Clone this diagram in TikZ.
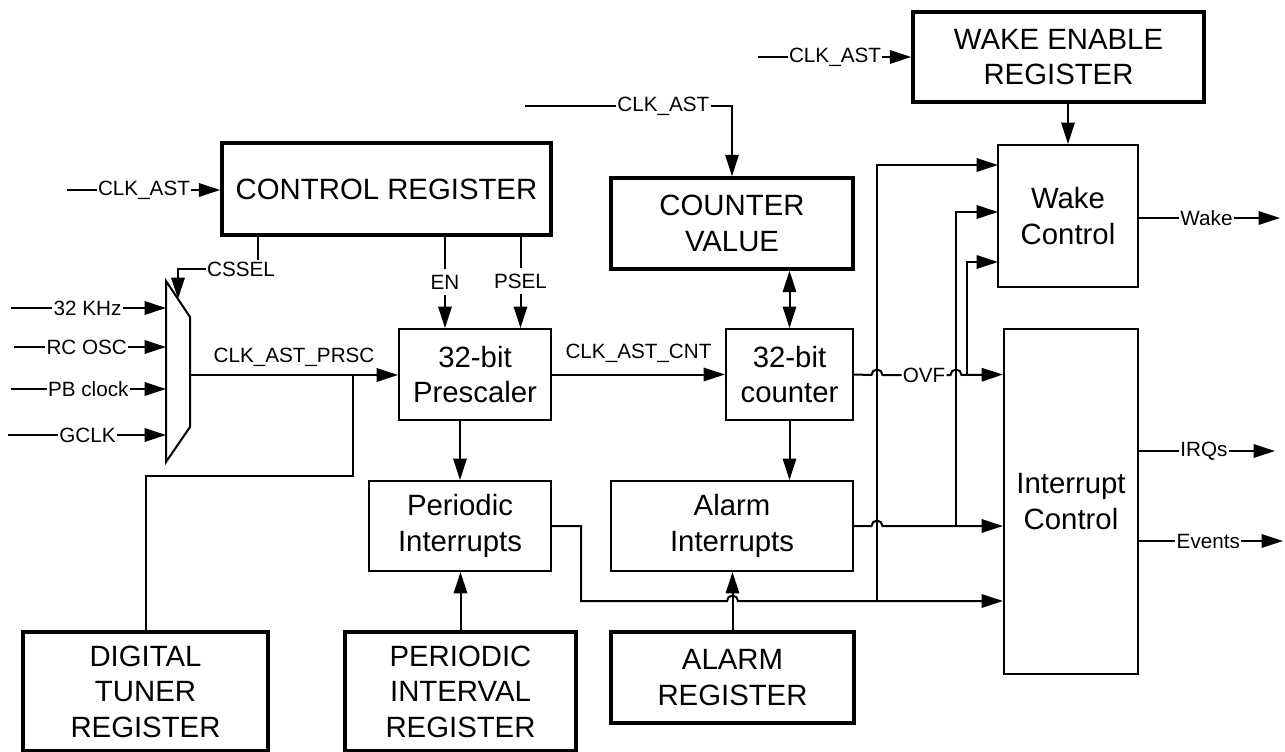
\documentclass[tikz,border=0pt]{standalone}
\usepackage{fontspec}
\setmainfont{Liberation Sans}
\usetikzlibrary{arrows.meta}

\tikzset{
  wire/.style={line width=1.5pt},
  regbox/.style={draw, line width=2.6pt, align=center, inner sep=0pt, font=\fontsize{22}{26.6}\selectfont},
  blkbox/.style={draw, line width=1.5pt, align=center, inner sep=0pt, font=\fontsize{22}{26.6}\selectfont},
  sig/.style={inner sep=0.75pt, font=\fontsize{15.5}{18}\selectfont},
  vsig/.style={sig, inner ysep=4pt},
}

\begin{document}
\begin{tikzpicture}[x=0.75pt,y=0.75pt,yscale=-1,xscale=1, >={Triangle[length=16pt,width=10pt]}]
\useasboundingbox (0,0) rectangle (1285,752);

% Registers
\node [regbox, minimum width=246.75pt, minimum height=69pt] (ctrl) at (386.5,189) {CONTROL REGISTER};
\node [regbox, minimum width=218.25pt, minimum height=67.5pt] (wer) at (1058.5,57) {WAKE ENABLE\\REGISTER};
\node [regbox, minimum width=181.5pt, minimum height=68.25pt] (cval) at (732,223.5) {COUNTER\\VALUE};
\node [regbox, minimum width=183.75pt, minimum height=89.25pt] (dtr) at (145.5,691.5) {DIGITAL\\TUNER\\REGISTER};
\node [regbox, minimum width=173.25pt, minimum height=89.25pt] (pir) at (460.5,691.5) {PERIODIC\\INTERVAL\\REGISTER};
\node [regbox, minimum width=182.25pt, minimum height=68.25pt] (areg) at (732.5,677.5) {ALARM\\REGISTER};

% Blocks
\node [blkbox, minimum width=114pt, minimum height=68.25pt] (presc) at (475,374.5) {32-bit\\Prescaler};
\node [blkbox, minimum width=95.25pt, minimum height=68.25pt] (cnt) at (789.5,374.5) {32-bit\\counter};
\node [blkbox, minimum width=136.5pt, minimum height=67.5pt] (pint) at (460,526) {Periodic\\Interrupts};
\node [blkbox, minimum width=181.5pt, minimum height=67.5pt] (aint) at (732,526) {Alarm\\Interrupts};
\node [blkbox, minimum width=105pt, minimum height=106.5pt] (wctl) at (1068,216) {Wake\\Control};
\node [blkbox, minimum width=100.5pt, minimum height=258.75pt] (ictl) at (1071,501.5) {Interrupt\\Control};

% Clock mux
\draw [wire] (166,281) -- (190,317) -- (190,427) -- (166,462) -- cycle;
\coordinate (muxout) at (190,375);
\coordinate (muxsel) at (178,299);
\coordinate (m1) at (166,308);
\coordinate (m2) at (166,347);
\coordinate (m3) at (166,389);
\coordinate (m4) at (166,435);

% Text Node
\node [sig] (l32) at (87.5,308) {32 KHz};
\node [sig] (lrc) at (86.7,347) {RC OSC};
\node [sig] (lpb) at (88.3,389) {PB clock};
\node [sig] (lgc) at (87.5,435) {GCLK};
\node [sig] (lcr) at (144,190) {CLK\_AST};
\node [sig] (lcv) at (663.4,106) {CLK\_AST};
\node [sig] (lwe) at (835,57) {CLK\_AST};
\node [sig] (lcs) at (241,269) {CSSEL};
\node [vsig] (len) at (445,282) {EN};
\node [vsig] (lps) at (520.5,281) {PSEL};
\node [sig] (lovf) at (924,375) {OVF};
\node [sig] (lwk) at (1206.5,218) {Wake};
\node [sig] (lirq) at (1204,451) {IRQs};
\node [sig] (lev) at (1208.3,541) {Events};

% free ends
\coordinate (s32) at (10.7,308);
\coordinate (src) at (14.3,347);
\coordinate (spb) at (10.7,389);
\coordinate (sgc) at (8.3,435);
\coordinate (scr) at (66.7,190);
\coordinate (scv) at (525,106);
\coordinate (swe) at (758,57);
\coordinate (owk) at (1280,218);
\coordinate (oirq) at (1275,451);
\coordinate (oev) at (1283,541);

% clock inputs
\draw [wire] (s32) -- (l32);  \draw [wire,->] (l32) -- (m1);
\draw [wire] (src) -- (lrc);  \draw [wire,->] (lrc) -- (m2);
\draw [wire] (spb) -- (lpb);  \draw [wire,->] (lpb) -- (m3);
\draw [wire] (sgc) -- (lgc);  \draw [wire,->] (lgc) -- (m4);

% CLK_AST into the registers
\draw [wire] (scr) -- (lcr);  \draw [wire,->] (lcr) -- (ctrl.west |- lcr);
\draw [wire] (scv) -- (lcv);  \draw [wire,->] (lcv) -| (cval.north);
\draw [wire] (swe) -- (lwe);  \draw [wire,->] (lwe) -- (wer.west |- lwe);

% control outputs
\draw [wire] (ctrl.south -| 258,0) -- (lcs.north -| 258,0);
\draw [wire,->] (lcs.west) -| (muxsel);
\draw [wire] (ctrl.south -| len) -- (len);  \draw [wire,->] (len) -- (presc.north -| len);
\draw [wire] (ctrl.south -| lps) -- (lps);  \draw [wire,->] (lps) -- (presc.north -| lps);

% prescaler path
\draw [wire,->] (muxout) -- node [sig, above=5pt] (lprsc) {CLK\_AST\_PRSC} (presc.west |- muxout);
\coordinate (tap) at (353,375);
\draw [wire] (tap) -- (353,476) -| (dtr.north);
\draw [wire,->] (presc.east) -- node [sig, above=7.5pt] (lcnt) {CLK\_AST\_CNT} (cnt.west);
\draw [wire,->] (presc.south -| pint.north) -- (pint.north);
\draw [wire,->] (pir.north) -- (pir.north |- pint.south);

% counter
\draw [wire,<->] (cval.south -| cnt.north) -- (cnt.north);
\draw [wire,->] (cnt.south) -- (cnt.south |- aint.north);
\draw [wire,->] (areg.north) -- (areg.north |- aint.south);

% wake enable
\draw [wire,->] (wer.south -| wctl.north) -- (wctl.north);

% junctions
\coordinate (jper) at (877,601);
\coordinate (jalm) at (956,526);
\coordinate (jovf) at (967,375);
\coordinate (w1) at (998,165);
\coordinate (w2) at (998,212);
\coordinate (w3) at (998,262);

% OVF
\draw [wire] (cnt.east) -- (871.5,375) arc [start angle=180, end angle=360, radius=5.5] -- (lovf.west);
\draw [wire,->] (lovf.east) -- (950.5,375) arc [start angle=180, end angle=360, radius=5.5] -- (ictl.west |- cnt.east);
\draw [wire,->] (jovf) |- (w3);

% alarm interrupts
\draw [wire,->] (aint.east) -- (871.5,526) arc [start angle=180, end angle=360, radius=5.5] -- (ictl.west |- aint.east);
\draw [wire,->] (jalm) |- (w2);

% periodic interrupts
\draw [wire,->] (pint.east) -- (581,526) -- (581,601) -- (727,601) arc [start angle=180, end angle=360, radius=5.5] -- (ictl.west |- jper);
\draw [wire,->] (jper) |- (w1);

% outputs
\draw [wire] (wctl.east |- lwk) -- (lwk);  \draw [wire,->] (lwk) -- (owk);
\draw [wire] (ictl.east |- lirq) -- (lirq);  \draw [wire,->] (lirq) -- (oirq);
\draw [wire] (ictl.east |- lev) -- (lev);  \draw [wire,->] (lev) -- (oev);

\end{tikzpicture}
\end{document}
